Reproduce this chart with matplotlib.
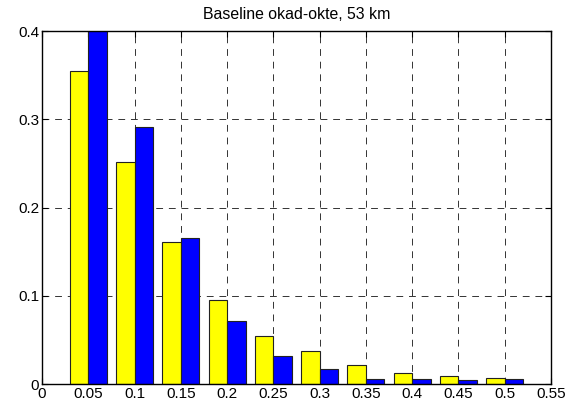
import matplotlib
matplotlib.use('Agg')
import matplotlib.pyplot as plt
import numpy as np

plt.rcParams['font.family'] = ['Liberation Sans', 'DejaVu Sans']

centers = [0.05, 0.1, 0.15, 0.2, 0.25, 0.3, 0.35, 0.4, 0.45, 0.5]
yellow_vals = [0.355, 0.252, 0.161, 0.095, 0.054, 0.037, 0.0215, 0.0125, 0.0087, 0.0068]
blue_vals = [0.42, 0.291, 0.165, 0.0714, 0.032, 0.017, 0.006, 0.006, 0.0042, 0.006]
xtick_vals = [0, 0.05, 0.1, 0.15, 0.2, 0.25, 0.3, 0.35, 0.4, 0.45, 0.5, 0.55]
xtick_labels = ['0', '0.05', '0.1', '0.15', '0.2', '0.25', '0.3', '0.35', '0.4', '0.45', '0.5', '0.55']
ytick_vals = [0, 0.1, 0.2, 0.3, 0.4]
ytick_labels = ['0', '0.1', '0.2', '0.3', '0.4']

fig = plt.figure(figsize=(5.76, 4.08), dpi=100)
ax = fig.add_axes([0.0729, 0.0588, 0.8837, 0.8652])

w = 0.02
x = np.array(centers)
ax.bar(x - w / 2, yellow_vals, width=w, color='#ffff00', edgecolor='#222222', linewidth=0.8, zorder=2)
ax.bar(x + w / 2, blue_vals, width=w, color='#0000ff', edgecolor='#222222', linewidth=0.8, zorder=2)

ax.set_xlim(0, 0.55)
ax.set_ylim(0, 0.4)
ax.set_xticks(xtick_vals)
ax.set_xticklabels(xtick_labels)
ax.set_yticks(ytick_vals)
ax.set_yticklabels(ytick_labels)
ax.tick_params(direction='in', labelsize=11, length=4, top=True, right=True, pad=2)
ax.set_axisbelow(True)
ax.grid(True, color='#333333', linestyle=(0, (7, 6)), linewidth=0.7)
for s in ax.spines.values():
    s.set_linewidth(1.0)
ax.set_title('Baseline okad-okte, 53 km', fontsize=11.4, pad=9)

fig.savefig('out.png', dpi=100)
